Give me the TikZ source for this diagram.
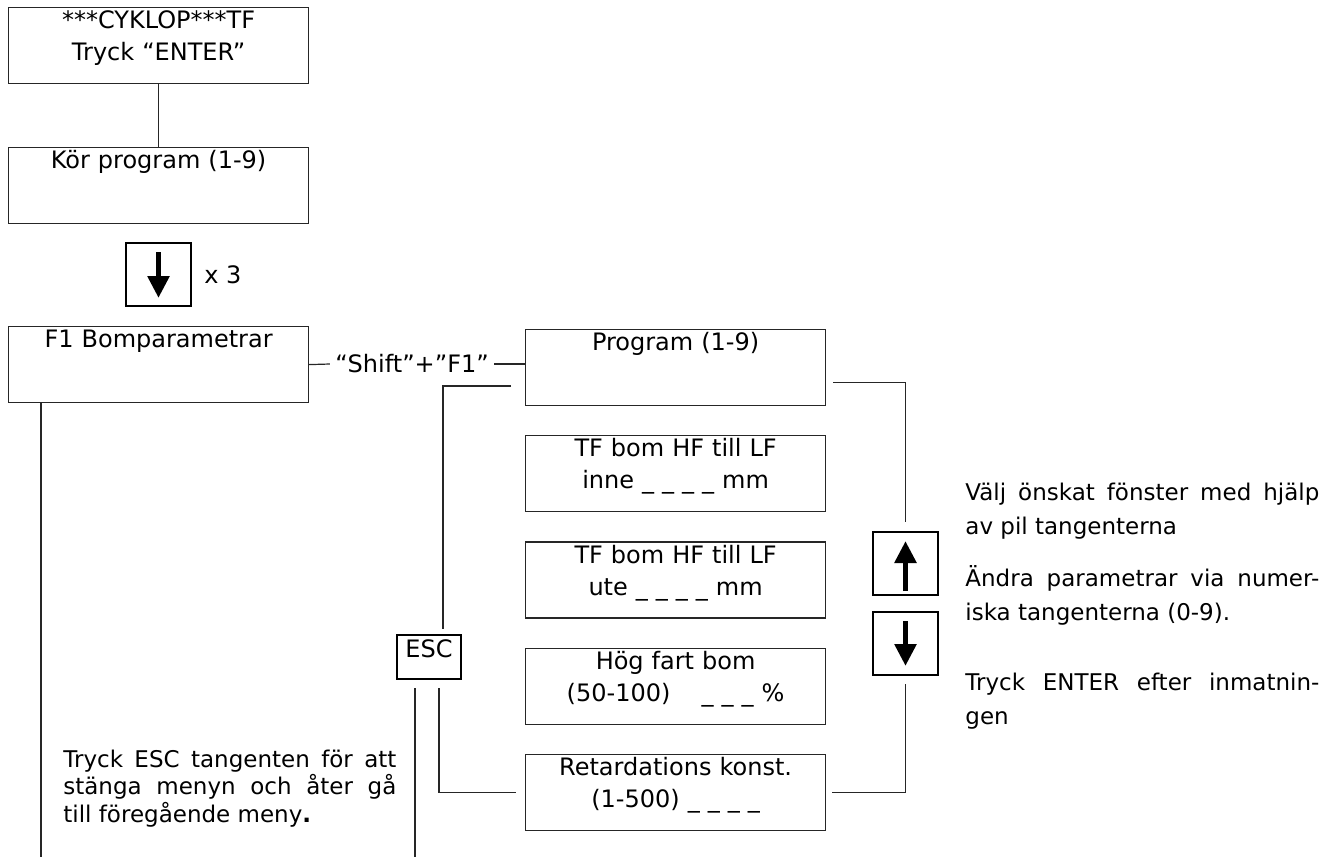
\documentclass[tikz,border=0pt]{standalone}
\usepackage{fontspec}
\setmainfont{DejaVu Sans}
\usetikzlibrary{arrows.meta, positioning}
\tikzset{
menubox/.style={draw=black!85, line width=0.6pt, minimum width=150pt, text width=146pt, align=center, inner xsep=2pt, inner ysep=1pt, text height=9.5pt, text depth=26.5pt, font=\fontsize{12}{16}\selectfont, anchor=north west},
keybox/.style={draw, line width=1pt, minimum width=32.5pt, minimum height=31.5pt, inner sep=0pt},
keyarrow/.style={line width=2.8pt, -{Triangle[length=11pt,width=10.5pt]}},
escbox/.style={draw, line width=1pt, minimum width=32pt, inner xsep=0pt, inner ysep=1pt, text height=10pt, text depth=10pt, font=\fontsize{12}{14}\selectfont},
note/.style={align=justify, inner sep=0pt, anchor=base west},
conn/.style={draw=black!85, line width=0.6pt}
}

\begin{document}
\begin{tikzpicture}[x=0.5pt, y=-0.5pt]
\useasboundingbox (0,0) rectangle (1335,857);
%----------------------------------------------------------------------------
% Placement of menu nodes
\node (start) [menubox] at (8,7) {***CYKLOP***TF\\Tryck “ENTER”};
\node (run) [menubox] at (8,147) {Kör program (1-9)};
\node (keyStep) [keybox] at (158.5,274.5) {};
\node (times) [right=6pt of keyStep, inner sep=0pt, font=\fontsize{12}{14}\selectfont] {x 3};
\node (bom) [menubox] at (8,326) {F1 Bomparametrar};
\node (shift) [inner xsep=2.5pt, font=\fontsize{12}{14}\selectfont] at (412,364) {“Shift”+”F1”};
\node (prog) [menubox] at (525,329) {Program (1-9)};
\node (inne) [menubox, below=14.5pt of prog] {TF bom HF till LF\\inne \_ \_ \_ \_ mm};
\node (ute) [menubox, below=14.5pt of inne] {TF bom HF till LF\\ute \_ \_ \_ \_ mm};
\node (hog) [menubox, below=14.5pt of ute] {Hög fart bom\\(50-100)\hspace{1.3em}\_ \_ \_ \%};
\node (retard) [menubox, below=14.5pt of hog] {Retardations konst.\\(1-500) \_ \_ \_ \_};
\node (esc) [escbox] at (429,657) {ESC};
\node (keyUp) [keybox] at (905.5,563.5) {};
\node (keyDown) [keybox] at (905.5,643.5) {};

%----------------------------------------------------------------------------
% Lines
\draw [conn] (start) -- (run);
\draw [conn] (bom.east) -- (shift.west);
\draw [conn] (shift.east) -- (shift.east -| prog.west);
\coordinate (escTop) at (511,386);
\draw [conn] (escTop) -| ([xshift=7pt,yshift=2.5pt]esc.north);
\coordinate (escEnd) at (415,857);
\draw [conn] ([yshift=-4pt]esc.south -| escEnd) -- (escEnd);
\draw [conn] ([xshift=5pt,yshift=-4pt]esc.south) |- ([xshift=-4.5pt]retard.west);
\draw [conn] ([xshift=3.5pt,yshift=-7.5pt]prog.east) -| ([yshift=4.5pt]keyUp.north);
\draw [conn] ([yshift=-4pt]keyDown.south) |- ([xshift=3pt]retard.east);
\coordinate (bomEnd) at (41,857);
\draw [conn] (bom.south -| bomEnd) -- (bomEnd);

\draw [keyarrow] ([yshift=-5pt]keyStep.north) -- ([yshift=4.5pt]keyStep.south);
\draw [keyarrow] ([yshift=2.5pt]keyUp.south) -- ([yshift=-5pt]keyUp.north);
\draw [keyarrow] ([yshift=-5pt]keyDown.north) -- ([yshift=5pt]keyDown.south);

%----------------------------------------------------------------------------
% Notes
\node (noteEsc) [note, text width=166.5pt, font=\fontsize{11.5}{13.75}\selectfont] at (63,767) {Tryck ESC tangenten för att\linebreak stänga menyn och åter gå\linebreak till föregående meny\textbf{.}};
\node (noteSelect) [note, text width=177pt, font=\fontsize{11.5}{17}\selectfont] at (965,500) {Välj önskat fönster med hjälp\linebreak av pil tangenterna};
\node (noteChange) [note, text width=177pt, font=\fontsize{11.5}{17}\selectfont] at (965,586) {Ändra parametrar via numer-\linebreak iska tangenterna (0-9).};
\node (noteEnter) [note, text width=177pt, font=\fontsize{11.5}{17}\selectfont] at (965,690) {Tryck ENTER efter inmatnin-\linebreak gen};

\end{tikzpicture}
\end{document}
